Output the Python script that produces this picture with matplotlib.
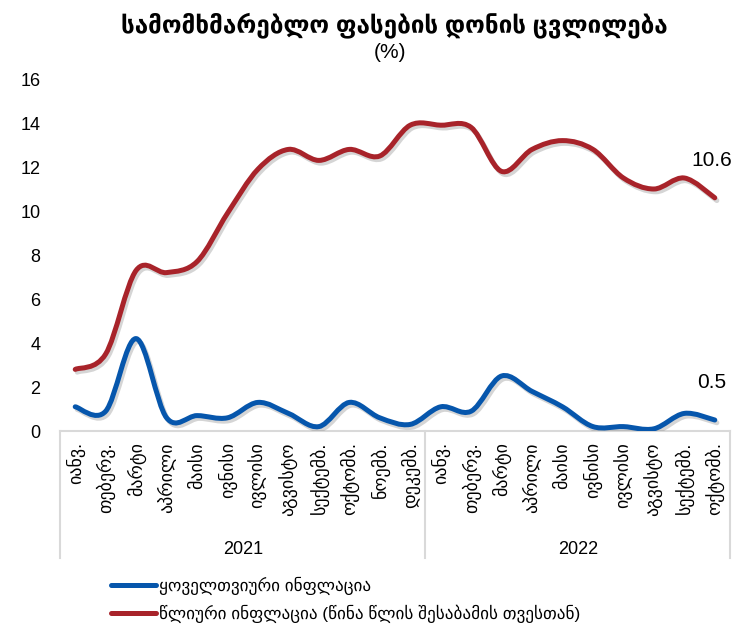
import matplotlib
matplotlib.use("Agg")
import matplotlib.pyplot as plt
import matplotlib.patheffects as pe
from matplotlib.lines import Line2D
from matplotlib.patches import PathPatch
from matplotlib.path import Path

plt.rcParams["font.family"] = ["Liberation Sans", "DejaVu Sans"]

months_2021 = ["იანვ.", "თებერვ.", "მარტი", "აპრილი", "მაისი", "ივნისი",
               "ივლისი", "აგვისტო", "სექტემბ.", "ოქტომბ.", "ნოემბ.", "დეკემბ."]
months_2022 = ["იანვ.", "თებერვ.", "მარტი", "აპრილი", "მაისი", "ივნისი",
               "ივლისი", "აგვისტო", "სექტემბ.", "ოქტომბ."]
years = ["2021", "2022"]

# monthly (month-over-month) and annual (year-over-year) CPI change, %
monthly = [1.1, 0.9, 4.2, 0.6, 0.7, 0.6, 1.3, 0.8, 0.2, 1.3, 0.6, 0.3,
           1.1, 0.9, 2.5, 1.8, 1.1, 0.2, 0.2, 0.1, 0.8, 0.5]
annual = [2.8, 3.5, 7.3, 7.2, 7.7, 9.9, 11.9, 12.8, 12.3, 12.8, 12.5, 13.9,
          13.9, 13.8, 11.8, 12.8, 13.2, 12.8, 11.5, 11.0, 11.5, 10.6]

BLUE = "#0656ac"
RED = "#a8232a"
GRID = "#d9d9d9"


def smooth_path(xs, ys):
    # Catmull-Rom style bezier through every point (like Excel's smoothed line)
    n = len(xs)
    verts = [(xs[0], ys[0])]
    codes = [Path.MOVETO]
    for i in range(n - 1):
        a = max(i - 1, 0)
        b = min(i + 2, n - 1)
        c1 = (xs[i] + (xs[i + 1] - xs[a]) / 6, ys[i] + (ys[i + 1] - ys[a]) / 6)
        c2 = (xs[i + 1] - (xs[b] - xs[i]) / 6, ys[i + 1] - (ys[b] - ys[i]) / 6)
        verts += [c1, c2, (xs[i + 1], ys[i + 1])]
        codes += [Path.CURVE4] * 3
    return Path(verts, codes)


W, H = 735, 628
fig = plt.figure(figsize=(W / 100, H / 100), dpi=100)
ax = fig.add_axes([60 / W, (H - 431) / H, 670 / W, 352 / H])

labels = months_2021 + months_2022
x = list(range(len(labels)))
shadow = [pe.SimpleLineShadow(offset=(1.5, -2), shadow_color="#888888", alpha=0.35),
          pe.Normal()]

for vals, col, z in [(annual, RED, 3), (monthly, BLUE, 4)]:
    patch = PathPatch(smooth_path(x, vals), fill=False, edgecolor=col, lw=3.6,
                      capstyle="round", joinstyle="round", zorder=z)
    patch.set_path_effects(shadow)
    ax.add_patch(patch)

ax.set_xlim(-0.5, len(labels) - 0.5)
ax.set_ylim(0, 16)
ax.set_yticks(range(0, 17, 2))
ax.tick_params(axis="y", length=0, pad=14, labelsize=13)
ax.set_xticks(x)
ax.set_xticklabels(labels, rotation=90, fontsize=13)
ax.tick_params(axis="x", length=0, pad=8)

for side in ["left", "right", "top"]:
    ax.spines[side].set_visible(False)
ax.spines["bottom"].set_color(GRID)
ax.spines["bottom"].set_linewidth(1.5)

# two-level category axis: separators between the years
trans = ax.get_xaxis_transform()
for xs in [-0.5, 11.5, len(labels) - 0.5]:
    ax.plot([xs, xs], [0, -0.36], transform=trans, color=GRID, lw=1.5, clip_on=False)
ax.text(5.5, -0.336, years[0], transform=trans, ha="center", va="center", fontsize=13)
ax.text(11.5 + len(months_2022) / 2, -0.336, years[1], transform=trans,
        ha="center", va="center", fontsize=13)

# last values
ax.annotate(f"{annual[-1]:.1f}", (x[-1], annual[-1]), xytext=(-2, 27),
            textcoords="offset points", ha="center", va="center", fontsize=15)
ax.annotate(f"{monthly[-1]:.1f}", (x[-1], monthly[-1]), xytext=(-2, 27),
            textcoords="offset points", ha="center", va="center", fontsize=15)

fig.text(394 / W, 1 - 25 / H, "სამომხმარებლო ფასების დონის ცვლილება",
         ha="center", va="center", fontsize=17.5, fontweight="bold")
fig.text(390 / W, 1 - 53 / H, "(%)", ha="center", va="center", fontsize=15)

handles = [Line2D([], [], color=BLUE, lw=3.6, solid_capstyle="round"),
           Line2D([], [], color=RED, lw=3.6, solid_capstyle="round")]
fig.legend(handles, ["ყოველთვიური ინფლაცია",
                     "წლიური ინფლაცია (წინა წლის შესაბამის თვესთან)"],
           loc="upper left", bbox_to_anchor=(96 / W, 1 - 561 / H), frameon=False,
           fontsize=12.3, handlelength=2.6, handletextpad=0.2, labelspacing=0.6)

fig.savefig("out.png", dpi=100)
